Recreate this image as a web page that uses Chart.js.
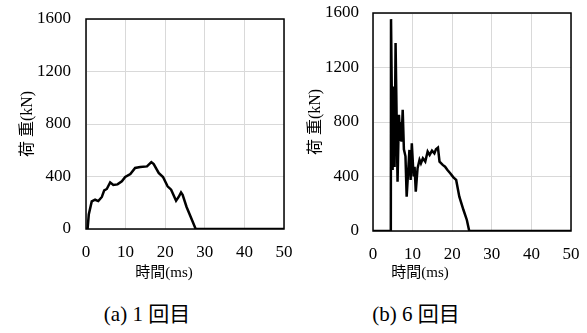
<!DOCTYPE html>
<html>
<head>
<meta charset="utf-8">
<script src="https://cdn.jsdelivr.net/npm/chart.js@4/dist/chart.umd.min.js"></script>
<style>
  body { margin: 0; background: #fff; width: 587px; height: 333px; position: relative; overflow: hidden; }
  canvas { position: absolute; top: 0; }
  .txt { position: absolute; width: 200px; text-align: center; color: #000;
         font-family: "Liberation Serif", "Times New Roman", "Noto Sans CJK JP", serif; }
  .cap { top: 297px; font-size: 21px; }
  .xt { top: 262px; font-size: 15px; line-height: 20px; }
</style>
</head>
<body>
<canvas id="chartA" width="293" height="288" style="left:0"></canvas>
<canvas id="chartB" width="294" height="288" style="left:293px"></canvas>
<div class="txt xt" id="xtA" style="left:64px"></div>
<div class="txt xt" id="xtB" style="left:320px"></div>
<div class="txt cap" style="left:47px">(a) 1 回目</div>
<div class="txt cap" style="left:316px">(b) 6 回目</div>
<script>
/** run 1: time (ms) and load (kN) */
const timeA = [0, 0.4, 0.7, 1.45, 2.3, 3.1, 4.0, 4.6, 5.25, 6.1, 6.9, 7.95, 9.05, 9.9, 11.2, 12.4, 13.7, 15.4, 16.5, 17.1, 18.35, 19.45, 20.6, 21.5, 22.75, 23.4, 24.0, 24.4, 25.4, 26.4, 27.7, 50];
const loadA = [0, 0, 110, 210, 223, 213, 244, 294, 305, 355, 335, 340, 363, 396, 419, 465, 472, 477, 510, 495, 427, 396, 325, 300, 216, 244, 279, 261, 168, 96, 0, 0];
/** run 6: time (ms) and load (kN) */
const timeB = [0, 4.5, 4.55, 4.95, 5.2, 5.45, 5.7, 6.2, 6.55, 6.9, 7.05, 7.2, 7.5, 7.8, 8.2, 8.5, 9.2, 9.5, 9.8, 10.25, 10.5, 10.8, 11.25, 11.75, 12.1, 12.6, 13.2, 13.8, 14.3, 14.9, 15.5, 15.9, 16.4, 16.8, 17.6, 18.2, 18.8, 19.5, 20.3, 21.0, 21.8, 22.85, 23.7, 24.3, 50];
const loadB = [0, 0, 1555, 448, 1060, 470, 1380, 362, 853, 670, 800, 655, 890, 600, 548, 252, 595, 375, 644, 400, 472, 289, 460, 522, 497, 534, 510, 583, 558, 590, 570, 600, 612, 509, 485, 472, 448, 424, 394, 375, 252, 154, 81, 0, 0];
/** axis ticks */
const xTicks = [0, 10, 20, 30, 40, 50];
const yTicks = [0, 400, 800, 1200, 1600];
const xTitle = "時間(ms)";
const yTitle = "荷 重(kN)";

const FONT = '"Liberation Serif", "Times New Roman", "Noto Sans CJK JP", serif';

// x titles sit left of the plot centre in the original, so they are placed as page text
document.getElementById("xtA").textContent = xTitle;
document.getElementById("xtB").textContent = xTitle;

// black frame round the plot area
const framePlugin = {
    id: "frame",
    afterDraw(chart) {
        const a = chart.chartArea;
        const c = chart.ctx;
        c.save();
        c.strokeStyle = "#000";
        c.lineWidth = 1.5;
        c.strokeRect(a.left, a.top, a.right - a.left, a.bottom - a.top);
        c.restore();
    },
};

function makeChart(id, times, loads, pad, yWidth, xHeight, yTitlePad, yTickPad, lineW) {
    const points = times.map((t, i) => ({ x: t, y: loads[i] }));
    return new Chart(document.getElementById(id), {
        type: "scatter",
        data: {
            datasets: [{
                data: points,
                showLine: true,
                borderColor: "#000",
                borderWidth: lineW,
                pointRadius: 0,
                tension: 0,
            }],
        },
        options: {
            responsive: false,
            animation: false,
            layout: { padding: pad },
            plugins: { legend: { display: false }, tooltip: { enabled: false } },
            scales: {
                x: {
                    type: "linear",
                    min: 0,
                    max: 50,
                    afterBuildTicks: (s) => { s.ticks = xTicks.map((v) => ({ value: v })); },
                    afterFit: (s) => { s.height = xHeight; s.paddingLeft = 0; s.paddingRight = 0; },
                    grid: { color: "#d9d9d9", lineWidth: 1, drawTicks: false },
                    border: { display: false },
                    ticks: { color: "#000", font: { family: FONT, size: 17 }, padding: 13, maxRotation: 0, callback: (v) => String(v) },
                },
                y: {
                    min: 0,
                    max: 1600,
                    afterBuildTicks: (s) => { s.ticks = yTicks.map((v) => ({ value: v })); },
                    afterFit: (s) => { s.width = yWidth; s.paddingTop = 0; s.paddingBottom = 0; },
                    grid: { color: "#d9d9d9", lineWidth: 1, drawTicks: false },
                    border: { display: false },
                    ticks: { color: "#000", font: { family: FONT, size: 17 }, padding: yTickPad, callback: (v) => String(v) },
                    title: { display: true, text: yTitle, color: "#000", font: { family: FONT, size: 16 }, padding: { top: yTitlePad, bottom: 0 } },
                },
            },
        },
        plugins: [framePlugin],
    });
}

makeChart("chartA", timeA, loadA, { top: 19, right: 9, left: 0, bottom: 0 }, 86, 59, 18, 15, 2.5);
makeChart("chartB", timeB, loadB, { top: 13, right: 16, left: 0, bottom: 0 }, 80, 57, 13, 14, 2.5);
</script>
</body>
</html>
